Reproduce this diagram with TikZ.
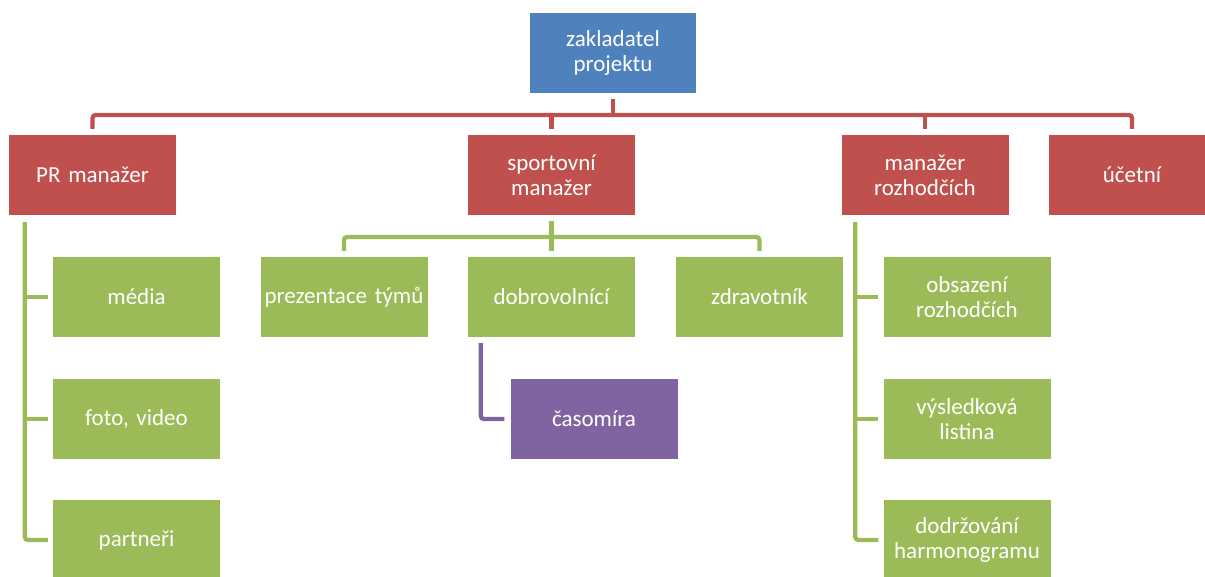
\documentclass[tikz,border=0pt]{standalone}
\usepackage{fontspec}
\setmainfont{Carlito}[WordSpace=0.7]
\definecolor{cblue}{HTML}{4F81BD}
\definecolor{cred}{HTML}{C0504D}
\definecolor{cgreen}{HTML}{9BBB59}
\definecolor{cpurple}{HTML}{8064A2}
\begin{document}
\begin{tikzpicture}[x=1pt,y=1pt,
  box/.style={rectangle, minimum width=167pt, minimum height=80pt, inner sep=0pt,
    text width=166pt, align=center, text=white,
    font=\fontsize{23pt}{25pt}\selectfont},
  bluebox/.style={box, fill=cblue},
  redbox/.style={box, fill=cred},
  greenbox/.style={box, fill=cgreen},
  purplebox/.style={box, fill=cpurple},
  conn/.style={line width=4.2pt, rounded corners=3pt},
  redline/.style={conn, draw=cred},
  greenline/.style={conn, draw=cgreen},
  purpleline/.style={conn, draw=cpurple}]
\useasboundingbox (0,0) rectangle (1205,-577);
\clip (0,0) rectangle (1205,-577);

\node[bluebox, minimum width=166pt] (top) at (613,-53) {zakladatel\\projektu};
\node[redbox] (pr) at (92.5,-175) {PR manažer};
\node[redbox] (sp) at (551.5,-175) {sportovní\\manažer};
\node[redbox] (mr) at (925,-175) {manažer\\rozhodčích};
\node[redbox] (acc) at (1132,-175) {účetní};

\node[greenbox] (media) at (136.5,-297) {média};
\node[greenbox] (foto) at (136.5,-419) {foto, video};
\node[greenbox] (partn) at (136.5,-540) {partneři};

\node[greenbox] (prez) at (344,-297) {prezentace týmů};
\node[greenbox] (dobr) at (551.5,-297) {dobrovolnící};
\node[greenbox] (zdrav) at (759.5,-297) {zdravotník};

\node[purplebox] (cas) at (594,-419) {časomíra};

\node[greenbox] (obs) at (967,-297) {obsazení\\rozhodčích};
\node[greenbox] (vys) at (967,-419) {výsledková\\listina};
\node[greenbox] (dod) at (967,-540) {dodržování\\harmonogramu};

% top level bus
\coordinate (busy) at (0,-115);
\draw[redline] ([yshift=6pt]pr.north) |- (acc.north |- busy) -- ([yshift=6pt]acc.north);
\draw[redline] ([yshift=-6pt]top.south) -- (top.south |- busy);
\draw[redline] ([yshift=6pt]sp.north) -- (sp.north |- busy);
\draw[redline] ([yshift=6pt]mr.north) -- (mr.north |- busy);

% PR children
\coordinate (prl) at ([shift={(16pt,-7pt)}]pr.south west);
\draw[greenline] (prl) |- ([xshift=-5pt]partn.west);
\draw[greenline] (prl |- media.west) -- ([xshift=-5pt]media.west);
\draw[greenline] (prl |- foto.west) -- ([xshift=-5pt]foto.west);

% sport children
\coordinate (spy) at (0,-237);
\draw[greenline] ([yshift=6pt]prez.north) |- (zdrav.north |- spy) -- ([yshift=6pt]zdrav.north);
\draw[greenline] ([yshift=-6pt]sp.south) -- ([yshift=6pt]dobr.north);

% volunteers child
\draw[purpleline] ([shift={(13pt,-6pt)}]dobr.south west) |- ([xshift=-6pt]cas.west);

% referee children
\coordinate (mrl) at ([shift={(14pt,-7pt)}]mr.south west);
\draw[greenline] (mrl) |- ([xshift=-5pt]dod.west);
\draw[greenline] (mrl |- obs.west) -- ([xshift=-5pt]obs.west);
\draw[greenline] (mrl |- vys.west) -- ([xshift=-5pt]vys.west);
\end{tikzpicture}
\end{document}
